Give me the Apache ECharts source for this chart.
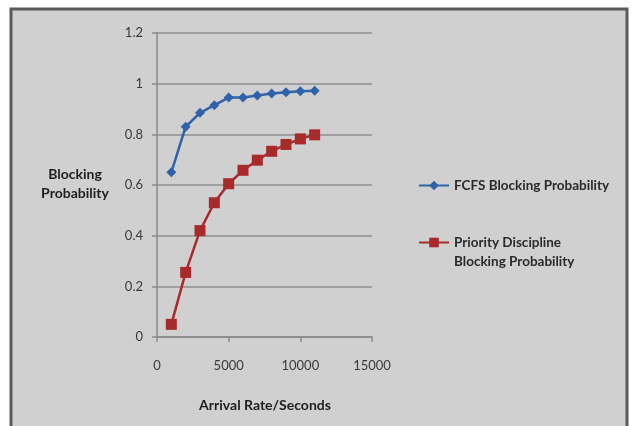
<!DOCTYPE html>
<html><head><meta charset="utf-8">
<script src="https://cdn.jsdelivr.net/npm/echarts@6/dist/echarts.min.js"></script>
<style>html,body{margin:0;padding:0;background:#fff}#c{width:632px;height:426px}</style>
</head><body><div id="c"></div>
<script>
const arrivalRates = [1000,2000,3000,4000,5000,6000,7000,8000,9000,10000,11000];
const fcfsValues = [0.65,0.83,0.885,0.915,0.945,0.945,0.953,0.961,0.966,0.97,0.972];
const priorityValues = [0.05,0.255,0.42,0.53,0.605,0.658,0.698,0.733,0.76,0.782,0.798];
const seriesNames = ['FCFS Blocking Probability','Priority Discipline Blocking Probability'];
const legendLines = {'Priority Discipline Blocking Probability':['Priority Discipline','Blocking Probability']};
const xAxisTitle = 'Arrival Rate/Seconds';
const yAxisTitle = 'Blocking\nProbability';

const FONT = 'Lato';
const chart = echarts.init(document.getElementById('c'), null, {renderer:'canvas'});
chart.setOption({
  backgroundColor:'#fff',
  animation:false,
  graphic:[
    {type:'rect', z:-10, shape:{x:11,y:9,width:616,height:430}, style:{fill:'#d0d0d0', stroke:'#5a5a5a', lineWidth:3}},
    {type:'text', style:{text:yAxisTitle, x:75, y:184, fill:'#1e1e1e', font:'bold 14px '+FONT, align:'center', verticalAlign:'middle', lineHeight:19}, silent:true},
    {type:'text', style:{text:xAxisTitle, x:265, y:405, fill:'#1e1e1e', font:'bold 14px '+FONT, align:'center', verticalAlign:'middle'}, silent:true}
  ],
  grid:{left:157, right:260, top:33, bottom:89},
  xAxis:{type:'value', min:0, max:15000, interval:5000,
    axisLine:{show:true, lineStyle:{color:'#8a8a8a', width:1.5}},
    axisTick:{show:true, length:5, lineStyle:{color:'#8a8a8a', width:1.5}},
    axisLabel:{color:'#3a3a3a', fontFamily:FONT, fontSize:13, margin:22, formatter:v=>String(v)},
    splitLine:{show:false}},
  yAxis:{type:'value', min:0, max:1.2, interval:0.2,
    axisLine:{show:true, lineStyle:{color:'#8a8a8a', width:1.5}},
    axisTick:{show:true, length:5, lineStyle:{color:'#8a8a8a', width:1.5}},
    axisLabel:{color:'#3a3a3a', fontFamily:FONT, fontSize:13, margin:14},
    splitLine:{show:true, lineStyle:{color:'#8f8f8f', width:1.5}}},
  legend:{orient:'vertical', left:418, top:176, padding:0, itemWidth:30, itemHeight:12, itemGap:19,
    textStyle:{color:'#2a2a2a', fontFamily:FONT, fontSize:13.5, fontWeight:'bold',
      rich:{a:{fontFamily:FONT, fontSize:13.5, fontWeight:'bold', color:'#2a2a2a', height:19, lineHeight:19}, e:{height:19, lineHeight:19}}},
    formatter:name=> legendLines[name] ? '{e| }\n{a|'+legendLines[name][0]+'}\n{a|'+legendLines[name][1]+'}' : '{a|'+name+'}',
    data:seriesNames},
  series:[
    {name:seriesNames[0], type:'line', data:arrivalRates.map((x,i)=>[x,fcfsValues[i]]),
      symbol:'diamond', symbolSize:10, lineStyle:{color:'#2f62a8', width:2.5},
      itemStyle:{color:'#2f62a8'}},
    {name:seriesNames[1], type:'line', data:arrivalRates.map((x,i)=>[x,priorityValues[i]]),
      symbol:'rect', symbolSize:11, lineStyle:{color:'#a82a2a', width:2.5},
      itemStyle:{color:'#a82a2a'}}
  ]
});
</script></body></html>
